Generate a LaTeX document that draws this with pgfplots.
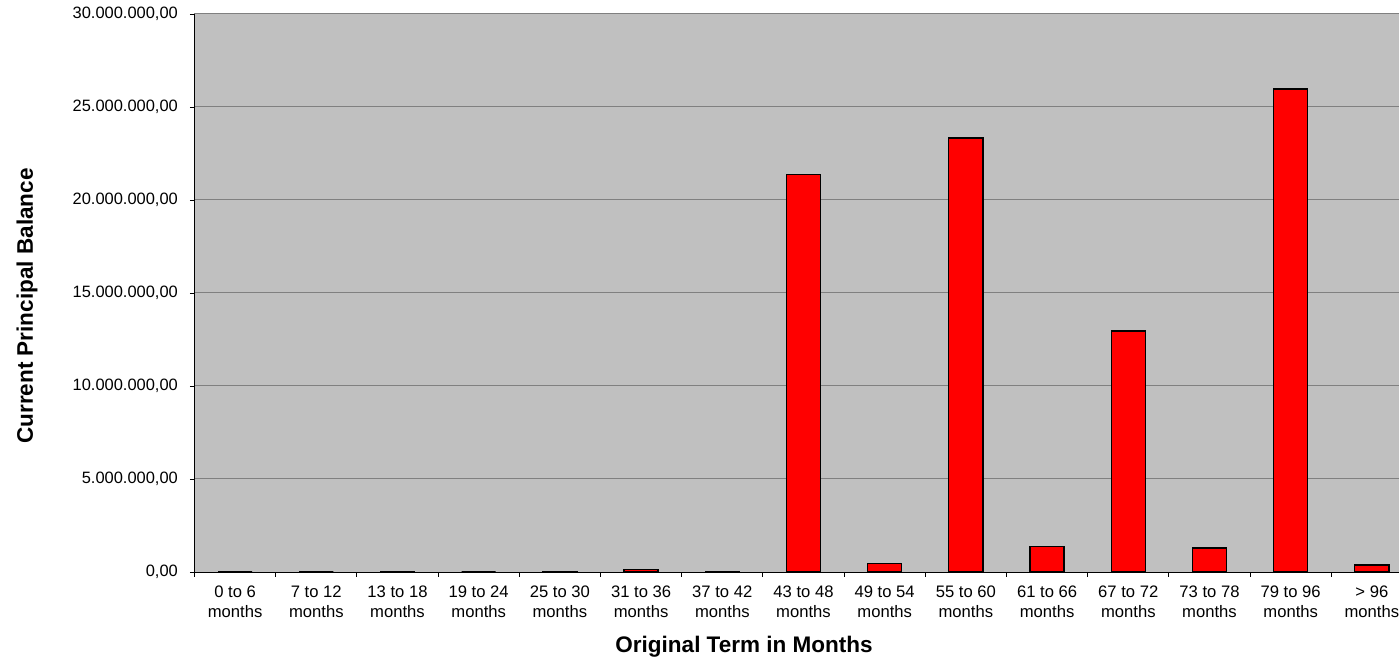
\documentclass[border=0pt]{standalone}
\usepackage{fontspec}
\setmainfont{Liberation Sans}
\usepackage{pgfplots}
\pgfplotsset{compat=1.18}

\definecolor{plotbg}{HTML}{C0C0C0}
\definecolor{gridgray}{HTML}{808080}

\begin{document}
\begin{tikzpicture}
\begin{axis}[
	name=ax,
	scale only axis,
	width=1218bp,
	height=558bp,
	ybar,
	bar width=0.42,
	xmin=-0.5, xmax=14.5,
	ymin=0, ymax=30000000,
	enlargelimits=false,
	axis background/.style={fill=plotbg},
	axis x line*=bottom,
	axis y line*=left,
	axis line style={-, black, line width=1bp},
	tick align=outside,
	major tick length=4.5bp,
	tick style={black, line width=0.8bp},
	xtick={-0.5,0.5,...,14.5},
	x tick label as interval,
	xticklabels={0 to 6\\months, 7 to 12\\months, 13 to 18\\months,
		19 to 24\\months, 25 to 30\\months, 31 to 36\\months,
		37 to 42\\months, 43 to 48\\months, 49 to 54\\months,
		55 to 60\\months, 61 to 66\\months, 67 to 72\\months,
		73 to 78\\months, 79 to 96\\months, > 96\\months},
	xticklabel style={font=\fontsize{16.7}{20.5}\selectfont, align=center,
		inner sep=0pt, anchor=north, yshift=-9bp},
	ytick={0,5000000,10000000,15000000,20000000,25000000,30000000},
	scaled y ticks=false,
	yticklabel style={font=\fontsize{16.5}{19}\selectfont, inner sep=0pt,
		xshift=-12bp,
		/pgf/number format/.cd, fixed, fixed zerofill, precision=2,
		1000 sep={.}, use comma, assume math mode=true},
	ymajorgrids,
	grid style={gridgray, line width=1bp},
	xlabel={\bfseries Original Term in Months},
	xlabel style={font=\fontsize{22.6}{26}\selectfont,
		at={(axis description cs:0.4512,-0.1434)}, anchor=base},
	ylabel={\bfseries Current Principal Balance},
	ylabel style={font=\fontsize{22.6}{26}\selectfont,
		at={(axis description cs:-0.1326,0.4767)}, anchor=base, rotate=0},
]
\addplot[fill=red, draw=black, line width=1.3bp] coordinates {
	(0,0)
	(1,0)
	(2,30000)
	(3,0)
	(4,25000)
	(5,150000)
	(6,25000)
	(7,21380000)
	(8,450000)
	(9,23330000)
	(10,1380000)
	(11,12950000)
	(12,1290000)
	(13,25970000)
	(14,380000)
};
\end{axis}
\pgfresetboundingbox
\path[use as bounding box] ([shift={(-194.5bp,-90bp)}]ax.south west)
	rectangle ([shift={(1204.5bp,14bp)}]ax.north west);
\end{tikzpicture}
\end{document}
